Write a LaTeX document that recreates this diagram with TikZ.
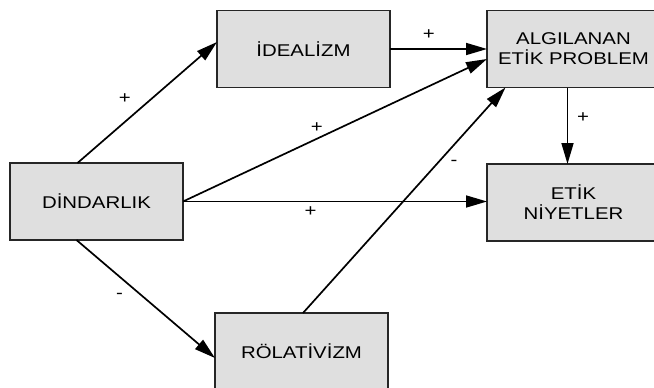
\documentclass[tikz,border=0pt]{standalone}
\usepackage{fontspec}
\setmainfont{Liberation Sans}[FakeStretch=1.2]
\usetikzlibrary{arrows.meta}
\begin{document}
\begin{tikzpicture}[x=1pt,y=-1pt,
  box/.style={draw=black!85, line width=1.7pt, fill={rgb,255:red,223;green,223;blue,223},
    minimum width=173pt, minimum height=77pt, inner sep=0pt, outer sep=0pt, align=center,
    font=\fontsize{17pt}{20pt}\selectfont},
  conn/.style={line width=1.7pt, -{Triangle[length=21pt,width=12pt]}},
  lbl/.style={font=\fontsize{17pt}{20pt}\selectfont, inner sep=0pt}]
\useasboundingbox (0,0) rectangle (654,388);
\node[box] (din) at (96.5,201.5) {DİNDARLIK};
\node[box] (ide) at (303.5,49) {İDEALİZM};
\node[box] (alg) at (573.5,49) {ALGILANAN\\ETİK PROBLEM};
\node[box] (eti) at (573.5,202.5) {ETİK\\NİYETLER};
\node[box] (rol) at (301.5,351.5) {RÖLATİVİZM};
\draw[conn] ([xshift=-19pt]din.north) -- node[lbl, pos=0.34, yshift=23pt]{+} ([yshift=7pt]ide.west);
\draw[conn] (ide.east) -- node[lbl, pos=0.4, yshift=14pt]{+} (alg.west);
\draw[conn] (din.east) -- node[lbl, pos=0.44, yshift=11.5pt]{+} ([yshift=-10pt]alg.west);
\draw[conn] (din.east) -- node[lbl, pos=0.42, yshift=-10.5pt]{+} (din.east -| eti.west);
\draw[conn] ([xshift=-20pt]din.south) -- node[lbl, pos=0.31, yshift=-19pt]{-} ([yshift=-6.5pt]rol.west);
\draw[conn] ([xshift=1.5pt]rol.north) -- node[lbl, pos=0.746, yshift=-18pt]{-} ([xshift=-68pt]alg.south);
\draw[conn] ([xshift=-6pt]alg.south) -- node[lbl, pos=0.39, xshift=15.5pt]{+} ([xshift=-6pt]alg.south |- eti.north);
\end{tikzpicture}
\end{document}
